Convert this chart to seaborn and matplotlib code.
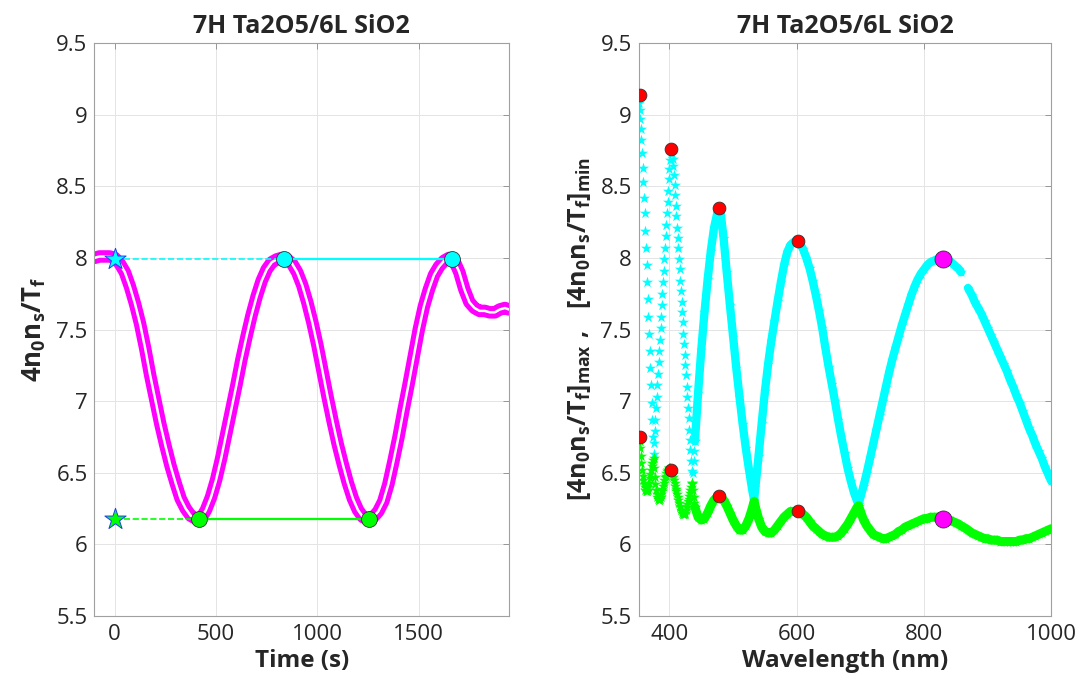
import numpy as np
import pandas as pd
import matplotlib
matplotlib.use("Agg")
import matplotlib.pyplot as plt
from matplotlib.ticker import FormatStrFormatter
import seaborn as sns

# ---- left panel: monitoring signal vs time ----
time_s = [-100, -75, -50, -25, 0, 25, 50, 75, 100, 125, 150, 175, 200, 225, 250,
          275, 300, 325, 350, 375, 400, 425, 450, 475, 500, 525, 550, 575, 600,
          625, 650, 675, 700, 725, 750, 775, 800, 825, 850, 875, 900, 925, 950,
          975, 1000, 1025, 1050, 1075, 1100, 1125, 1150, 1175, 1200, 1225, 1250,
          1275, 1300, 1325, 1350, 1375, 1400, 1425, 1450, 1475, 1500, 1525, 1550,
          1575, 1600, 1625, 1650, 1675, 1700, 1725, 1750, 1775, 1800, 1825, 1850,
          1875, 1900, 1925, 1945]
signal = [8.00, 8.01, 8.01, 8.01, 8.00, 7.96, 7.90, 7.80, 7.68, 7.54, 7.37, 7.18,
          7.01, 6.84, 6.69, 6.55, 6.43, 6.32, 6.25, 6.20, 6.18, 6.18, 6.24, 6.33,
          6.45, 6.60, 6.77, 6.94, 7.11, 7.29, 7.45, 7.60, 7.73, 7.84, 7.92, 7.97,
          7.99, 8.00, 7.99, 7.96, 7.90, 7.81, 7.69, 7.55, 7.39, 7.21, 7.03, 6.86,
          6.70, 6.56, 6.43, 6.32, 6.24, 6.19, 6.18, 6.19, 6.23, 6.30, 6.42, 6.58,
          6.75, 6.94, 7.12, 7.31, 7.50, 7.66, 7.78, 7.88, 7.94, 7.98, 8.00, 7.98,
          7.90, 7.78, 7.69, 7.65, 7.63, 7.63, 7.62, 7.62, 7.64, 7.65, 7.64]

max_times = [834, 1665]
min_times = [416, 1252]
level_max = 7.99
level_min = 6.18

# ---- right panel: envelopes vs wavelength ----
wl_a = np.arange(352, 441)  # 1 nm sampling, sparse stars region
tmax_a = [9.08, 9.03, 8.97, 8.90, 8.82, 8.73, 8.63, 8.53, 8.42, 8.31,
          8.19, 8.07, 7.95, 7.83, 7.71, 7.59, 7.47, 7.35, 7.23, 7.11,
          6.99, 6.87, 6.75, 6.63, 6.71, 6.79, 6.87, 6.95, 7.03, 7.11,
          7.19, 7.27, 7.35, 7.43, 7.51, 7.59, 7.67, 7.75, 7.83, 7.91,
          7.99, 8.07, 8.15, 8.23, 8.31, 8.39, 8.47, 8.55, 8.62, 8.68,
          8.73, 8.75, 8.73, 8.69, 8.64, 8.58, 8.51, 8.44, 8.36, 8.29,
          8.21, 8.14, 8.07, 7.99, 7.92, 7.84, 7.77, 7.69, 7.62, 7.55,
          7.47, 7.40, 7.32, 7.25, 7.18, 7.10, 7.03, 6.95, 6.88, 6.80,
          6.73, 6.66, 6.58, 6.51, 6.43, 6.50, 6.58, 6.65, 6.72]
tmin_a = [6.75, 6.72, 6.67, 6.62, 6.57, 6.52, 6.48, 6.45, 6.42, 6.40,
          6.38, 6.37, 6.37, 6.37, 6.38, 6.40, 6.43, 6.46, 6.49, 6.52,
          6.55, 6.57, 6.59, 6.60, 6.53, 6.47, 6.42, 6.38, 6.35, 6.33,
          6.32, 6.31, 6.31, 6.32, 6.33, 6.35, 6.37, 6.39, 6.41, 6.43,
          6.45, 6.47, 6.48, 6.50, 6.51, 6.52, 6.52, 6.53, 6.53, 6.53,
          6.52, 6.52, 6.51, 6.49, 6.47, 6.45, 6.43, 6.41, 6.39, 6.37,
          6.35, 6.33, 6.31, 6.29, 6.27, 6.26, 6.24, 6.23, 6.22, 6.21,
          6.21, 6.21, 6.21, 6.22, 6.24, 6.26, 6.28, 6.30, 6.32, 6.34,
          6.36, 6.38, 6.40, 6.42, 6.43, 6.38, 6.33, 6.29, 6.26]

wl_b = [440, 445, 450, 455, 460, 465, 470, 475, 478, 480, 485, 490, 495, 500,
        505, 510, 515, 520, 525, 530, 533, 535, 540, 545, 550, 555, 560, 565,
        570, 575, 580, 585, 590, 595, 600, 605, 610, 615, 620, 625, 630, 635,
        640, 645, 650, 655, 660, 665, 670, 675, 680, 685, 690, 695, 697, 700,
        705, 710, 715, 720, 725, 730, 735, 740, 745, 750, 755, 760, 765, 770,
        775, 780, 785, 790, 795, 800, 805, 810, 815, 820, 825, 830, 835, 840,
        845, 850, 855, 858, 862, 866, 869, 875, 880, 885, 890, 895, 900, 905,
        910, 915, 920, 925, 930, 935, 940, 945, 950, 955, 960, 965, 970, 975,
        980, 985, 990, 995, 1000]
tmax_b = [6.72, 7.06, 7.36, 7.62, 7.85, 8.05, 8.21, 8.31, 8.35, 8.33, 8.14, 7.90,
          7.67, 7.45, 7.23, 7.03, 6.84, 6.67, 6.52, 6.38, 6.31, 6.40, 6.62, 6.85,
          7.07, 7.26, 7.42, 7.56, 7.70, 7.83, 7.95, 8.04, 8.09, 8.11, 8.12, 8.10,
          8.06, 8.00, 7.93, 7.84, 7.74, 7.63, 7.51, 7.37, 7.24, 7.12, 7.00, 6.87,
          6.75, 6.64, 6.53, 6.44, 6.36, 6.30, 6.28, 6.33, 6.41, 6.50, 6.60, 6.70,
          6.80, 6.90, 7.00, 7.10, 7.20, 7.29, 7.37, 7.45, 7.53, 7.60, 7.67, 7.74,
          7.80, 7.85, 7.89, 7.92, 7.95, 7.97, 7.98, 7.99, 8.00, 8.00, 7.99, 7.98,
          7.96, 7.94, 7.92, 7.90, np.nan, np.nan, 7.79, 7.74, 7.69, 7.65, 7.61,
          7.56, 7.51, 7.46, 7.41, 7.36, 7.31, 7.26, 7.21, 7.15, 7.10, 7.04, 6.99,
          6.93, 6.87, 6.81, 6.76, 6.70, 6.65, 6.60, 6.54, 6.49, 6.44]
tmin_b = [6.26, 6.19, 6.17, 6.18, 6.22, 6.27, 6.31, 6.33, 6.34, 6.33, 6.31, 6.27,
          6.22, 6.17, 6.13, 6.10, 6.10, 6.13, 6.18, 6.25, 6.30, 6.26, 6.18, 6.12,
          6.09, 6.08, 6.08, 6.10, 6.13, 6.16, 6.19, 6.21, 6.23, 6.23, 6.23, 6.23,
          6.21, 6.19, 6.16, 6.13, 6.11, 6.09, 6.07, 6.06, 6.05, 6.05, 6.05, 6.06,
          6.08, 6.11, 6.14, 6.18, 6.22, 6.26, 6.27, 6.23, 6.17, 6.13, 6.10, 6.07,
          6.06, 6.05, 6.04, 6.04, 6.05, 6.06, 6.07, 6.09, 6.10, 6.12, 6.13, 6.14,
          6.15, 6.16, 6.17, 6.18, 6.18, 6.19, 6.19, 6.19, 6.19, 6.18, 6.18, 6.17,
          6.16, 6.15, 6.14, 6.13, 6.12, 6.11, 6.10, 6.08, 6.07, 6.06, 6.05, 6.04,
          6.04, 6.03, 6.03, 6.03, 6.02, 6.02, 6.02, 6.02, 6.02, 6.02, 6.03, 6.03,
          6.04, 6.04, 6.05, 6.06, 6.07, 6.08, 6.09, 6.10, 6.11]

peak_wl = [353, 403, 478, 602]
peak_max = [9.14, 8.76, 8.35, 8.12]
peak_min = [6.75, 6.52, 6.34, 6.23]
pick_wl = [830]
pick_max = [7.99]
pick_min = [6.18]

CYAN = "#00FFFF"
GREEN = "#00FF00"
MAGENTA = "#FF00FF"
TITLE = "7H Ta2O5/6L SiO2"

sns.set_style("white")
plt.rcParams["font.family"] = ["Open Sans", "DejaVu Sans"]
# math text takes the weight of the label itself
plt.rcParams["mathtext.default"] = "regular"

fig = plt.figure(figsize=(10.82, 6.84), dpi=100)
ax1 = fig.add_axes([0.0873, 0.0994, 0.3831, 0.8377])
ax2 = fig.add_axes([0.5902, 0.0994, 0.3815, 0.8377])


def style_axes(ax):
    ax.set_ylim(5.5, 9.5)
    ax.set_yticks(np.arange(5.5, 9.51, 0.5))
    ax.yaxis.set_major_formatter(FormatStrFormatter("%g"))
    ax.grid(True, color="#e4e4e4", lw=0.7)
    ax.set_axisbelow(True)
    ax.tick_params(direction="in", top=True, right=True, length=4, width=0.6,
                   color="#8a8a8a", labelcolor="#262626", labelsize=16)
    ax.tick_params(axis="x", pad=6)
    ax.tick_params(axis="y", pad=5)
    for sp in ax.spines.values():
        sp.set_color("#a0a0a0")
        sp.set_linewidth(0.8)
    ax.set_title(TITLE, fontsize=18, fontweight="bold", pad=7)


# ---------------- left panel ----------------
sns.lineplot(x=time_s, y=signal, color=MAGENTA, lw=9, estimator=None,
             ax=ax1, zorder=2)
sns.lineplot(x=time_s, y=signal, color="white", lw=1.8, estimator=None,
             ax=ax1, zorder=2.1)

sns.lineplot(x=[0, max_times[0]], y=[level_max, level_max], color=CYAN, lw=1.2,
             linestyle="--", ax=ax1, zorder=3)
sns.lineplot(x=max_times, y=[level_max, level_max], color=CYAN, lw=1.6,
             ax=ax1, zorder=3)
sns.lineplot(x=[0, min_times[0]], y=[level_min, level_min], color=GREEN, lw=1.2,
             linestyle="--", ax=ax1, zorder=3)
sns.lineplot(x=min_times, y=[level_min, level_min], color=GREEN, lw=1.6,
             ax=ax1, zorder=3)

sns.scatterplot(x=max_times, y=[level_max] * 2, s=130, color=CYAN,
                edgecolor="#333333", linewidth=0.6, ax=ax1, zorder=4)
sns.scatterplot(x=min_times, y=[level_min] * 2, s=130, color=GREEN,
                edgecolor="#333333", linewidth=0.6, ax=ax1, zorder=4)
sns.scatterplot(x=[0], y=[level_max], marker="*", s=260, color=CYAN,
                edgecolor="#1f3cff", linewidth=0.7, ax=ax1, zorder=5)
sns.scatterplot(x=[0], y=[level_min], marker="*", s=260, color=GREEN,
                edgecolor="#1f3cff", linewidth=0.7, ax=ax1, zorder=5)

style_axes(ax1)
ax1.set_xlim(-100, 1945)
ax1.set_xticks([0, 500, 1000, 1500])
ax1.set_xlabel("Time (s)", fontsize=17.5, fontweight="bold")
ax1.xaxis.set_label_coords(0.5, -0.058)
ax1.set_ylabel(r"$4n_0n_s/T_f$", fontsize=18.5, fontweight="bold")
ax1.yaxis.set_label_coords(-0.112, 0.5)

# ---------------- right panel ----------------
wl_b = np.array(wl_b)
tmax_b = np.array(tmax_b)
first = wl_b <= 858
second = wl_b >= 869

sns.scatterplot(x=wl_a, y=tmax_a, marker="*", s=70, color=CYAN, linewidth=0,
                ax=ax2, zorder=2)
for part in (first, second):
    sns.lineplot(x=wl_b[part], y=tmax_b[part], color=CYAN, lw=6, estimator=None,
                 ax=ax2, zorder=2)
sns.scatterplot(x=wl_b, y=tmax_b, marker="*", s=60, color=CYAN, linewidth=0,
                ax=ax2, zorder=2.1)

sns.scatterplot(x=wl_a, y=tmin_a, marker="*", s=70, color=GREEN, linewidth=0,
                ax=ax2, zorder=2.5)
sns.lineplot(x=wl_b, y=tmin_b, color=GREEN, lw=6.5, estimator=None,
             ax=ax2, zorder=2.5)
sns.scatterplot(x=wl_b, y=tmin_b, marker="*", s=60, color=GREEN, linewidth=0,
                ax=ax2, zorder=2.6)

sns.scatterplot(x=peak_wl, y=peak_max, s=85, color="#FF0000",
                edgecolor="#333333", linewidth=0.6, ax=ax2, zorder=5)
sns.scatterplot(x=peak_wl, y=peak_min, s=85, color="#FF0000",
                edgecolor="#333333", linewidth=0.6, ax=ax2, zorder=5)
sns.scatterplot(x=pick_wl, y=pick_max, s=150, color=MAGENTA,
                edgecolor="#333333", linewidth=0.6, ax=ax2, zorder=5)
sns.scatterplot(x=pick_wl, y=pick_min, s=150, color=MAGENTA,
                edgecolor="#333333", linewidth=0.6, ax=ax2, zorder=5)

style_axes(ax2)
ax2.set_xlim(351.5, 1000)
ax2.set_xticks([400, 600, 800, 1000])
ax2.set_xlabel("Wavelength (nm)", fontsize=17.5, fontweight="bold")
ax2.xaxis.set_label_coords(0.5, -0.058)
ax2.set_ylabel(r"$[4n_0n_s/T_f]_{max}\ ,\ \ [4n_0n_s/T_f]_{min}$",
               fontsize=18, fontweight="bold")
ax2.yaxis.set_label_coords(-0.11, 0.5)

fig.savefig("out.png", dpi=100)
